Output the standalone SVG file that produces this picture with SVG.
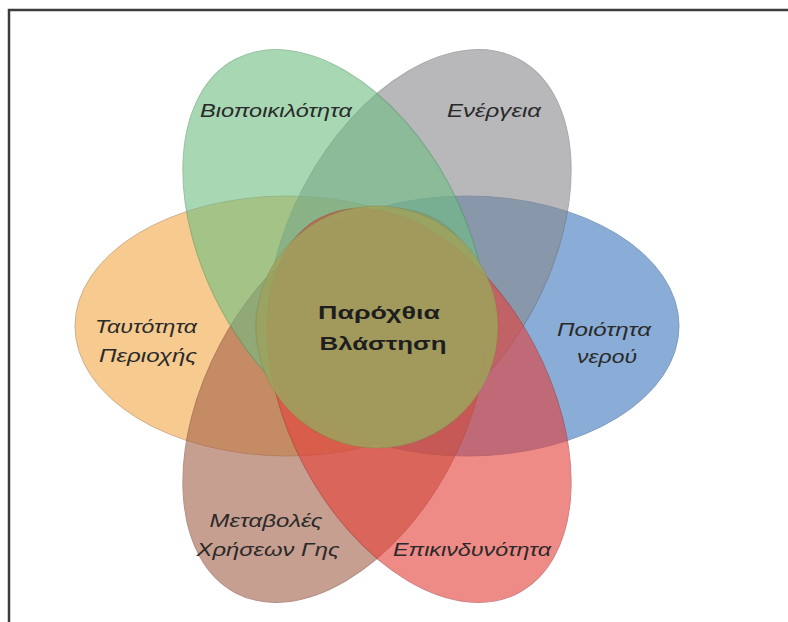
<svg xmlns="http://www.w3.org/2000/svg" width="788" height="622" viewBox="0 0 788 622">
<style>
.petal{opacity:0.6;stroke-width:1}
.lbl{font-family:"Liberation Sans",Arial,sans-serif;font-style:italic;font-size:18px;fill:#2a2a2a;text-anchor:middle}
.ctr{font-family:"Liberation Sans",Arial,sans-serif;font-weight:bold;font-size:18px;fill:#1e1e1e;text-anchor:middle}
</style>
<rect x="0" y="0" width="788" height="622" fill="#ffffff"/>
<path d="M9 622 V10 H788" fill="none" stroke="#3c3c3c" stroke-width="2.5"/>
<g id="n-water">
<ellipse class="petal" cx="467" cy="326" rx="212" ry="130" fill="#3c78be" stroke="#2c5a90"/>
<text class="lbl" x="604" y="336" textLength="94" lengthAdjust="spacingAndGlyphs">Ποιότητα</text>
<text class="lbl" x="607" y="363" textLength="60" lengthAdjust="spacingAndGlyphs">νερού</text>
</g>
<g id="n-identity">
<ellipse class="petal" cx="287" cy="326" rx="212" ry="130" fill="#f3aa48" stroke="#b07a40"/>
<text class="lbl" x="146" y="333" textLength="102" lengthAdjust="spacingAndGlyphs">Ταυτότητα</text>
<text class="lbl" x="148" y="362" textLength="98" lengthAdjust="spacingAndGlyphs">Περιοχής</text>
</g>
<g id="n-energy">
<ellipse class="petal" cx="0" cy="0" rx="212" ry="130" transform="translate(419.2 246.5) rotate(-62)" fill="#89898f" stroke="#707078"/>
<text class="lbl" x="494" y="117" textLength="94" lengthAdjust="spacingAndGlyphs">Ενέργεια</text>
</g>
<g id="n-landuse">
<ellipse class="petal" cx="0" cy="0" rx="212" ry="130" transform="translate(334.8 405.5) rotate(118)" fill="#a36148" stroke="#804838"/>
<text class="lbl" x="266" y="527" textLength="113" lengthAdjust="spacingAndGlyphs">Μεταβολές</text>
<text class="lbl" x="268" y="556" textLength="143" lengthAdjust="spacingAndGlyphs">Χρήσεων Γης</text>
</g>
<g id="n-biodiversity">
<ellipse class="petal" cx="0" cy="0" rx="212" ry="130" transform="translate(334.8 246.5) rotate(62)" fill="#6ebe82" stroke="#4e9a62"/>
<text class="lbl" x="276" y="117" textLength="152" lengthAdjust="spacingAndGlyphs">Βιοποικιλότητα</text>
</g>
<g id="n-hazard">
<ellipse class="petal" cx="0" cy="0" rx="212" ry="130" transform="translate(419.2 405.5) rotate(62)" fill="#e63f39" stroke="#b03030"/>
<text class="lbl" x="472" y="556" textLength="158" lengthAdjust="spacingAndGlyphs">Επικινδυνότητα</text>
</g>
<g id="n-center">
<circle cx="377" cy="327" r="121" fill="#9ea35e" fill-opacity="0.85" stroke="#8a8a50" stroke-opacity="0.5"/>
<text class="ctr" x="379" y="319" textLength="122" lengthAdjust="spacingAndGlyphs">Παρόχθια</text>
<text class="ctr" x="383" y="350" textLength="127" lengthAdjust="spacingAndGlyphs">Βλάστηση</text>
</g>
<g id="connectors"/>
</svg>
